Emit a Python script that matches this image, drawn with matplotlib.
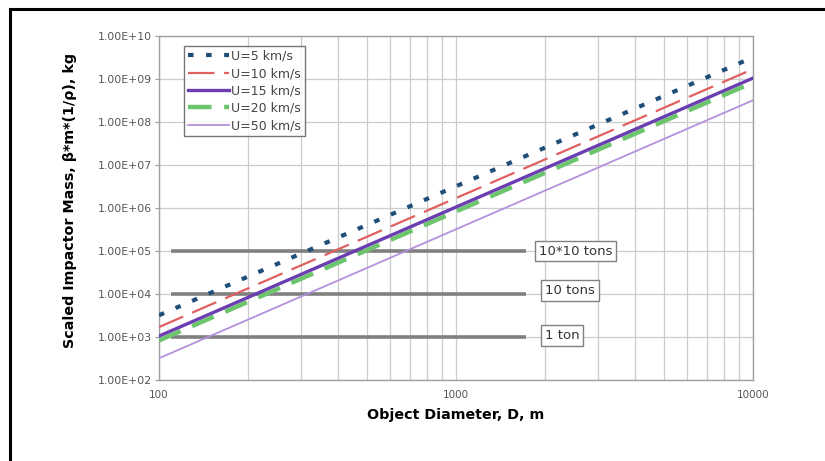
import matplotlib.pyplot as plt
from matplotlib.patches import Rectangle
from matplotlib.ticker import FixedLocator, NullFormatter

plt.rcParams['lines.scale_dashes'] = False

# object diameter, m
diam = [100, 1000, 10000]
# scaled impactor mass, kg, for each impact speed
mass_u5 = [3.2e3, 3.2e6, 3.2e9]
mass_u10 = [1.7e3, 1.7e6, 1.7e9]
mass_u15 = [1.05e3, 1.05e6, 1.05e9]
mass_u20 = [8.3e2, 8.3e5, 8.3e8]
mass_u50 = [3.2e2, 3.2e5, 3.2e8]
labels = ['U=5 km/s', 'U=10 km/s', 'U=15 km/s', 'U=20 km/s', 'U=50 km/s']

# reference masses
ref_x = [110, 1720]
ref_mass = [1e5, 1e4, 1e3]
ref_text = ['10*10 tons', '10 tons', '1 ton']
ref_text_x = [1900, 1990, 1990]
ref_text_y = [1.0e5, 1.2e4, 1.1e3]

fig = plt.figure(figsize=(8.25, 4.61), dpi=100)
ax = fig.add_axes([0.1927, 0.1757, 0.72, 0.7462])

# frame round the picture (cut at right and bottom)
fig.add_artist(Rectangle((9.5/825, -0.2), 1.2, 1 - 8.5/461 + 0.2, transform=fig.transFigure,
                         fill=False, edgecolor='black', linewidth=2.2))

for m in ref_mass:
    ax.plot(ref_x, [m, m], color='#808080', lw=2.6, solid_capstyle='butt', zorder=2)
for tx, ty, t in zip(ref_text_x, ref_text_y, ref_text):
    ax.text(tx, ty, t, fontsize=9.5, color='#333333', va='center', ha='left',
            bbox=dict(boxstyle='square,pad=0.3', fc='white', ec='#808080', lw=1))

ax.plot(diam, mass_u5, color='#1f4e79', lw=3, dashes=(4, 9), dash_capstyle='butt',
        label=labels[0], zorder=3)
ax.plot(diam, mass_u10, color='#e06060', lw=1.6, dashes=(19, 7), dash_capstyle='butt',
        label=labels[1], zorder=3)
ax.plot(diam, mass_u15, color='#6a3db0', lw=2.4, label=labels[2], zorder=4)
ax.plot(diam, mass_u20, color='#6cc56c', lw=3.2, dashes=(17, 9), dash_capstyle='butt',
        label=labels[3], zorder=3)
ax.plot(diam, mass_u50, color='#b590dc', lw=1.3, label=labels[4], zorder=3)

ax.set_xscale('log')
ax.set_yscale('log')
ax.set_xlim(100, 10000)
ax.set_ylim(1e2, 1e10)

ax.yaxis.set_major_locator(FixedLocator([10.0 ** k for k in range(2, 11)]))
ax.yaxis.set_minor_formatter(NullFormatter())
ax.yaxis.set_minor_locator(FixedLocator([]))
ax.set_yticklabels(['1.00E+%02d' % k for k in range(2, 11)])
ax.xaxis.set_major_locator(FixedLocator([100, 1000, 10000]))
ax.set_xticklabels(['100', '1000', '10000'])
ax.xaxis.set_minor_formatter(NullFormatter())

ax.grid(True, which='major', color='#cccccc', lw=0.9)
ax.grid(True, which='minor', axis='x', color='#cccccc', lw=0.9)
ax.set_axisbelow(True)
ax.tick_params(axis='y', which='major', length=3, color='#999999', labelsize=7.8,
               labelcolor='#555555', pad=2)
ax.tick_params(axis='x', which='both', length=0, labelsize=7.5, labelcolor='#555555', pad=7)
for s in ax.spines.values():
    s.set_color('#a0a0a0')
    s.set_linewidth(1)

ax.set_xlabel('Object Diameter, D, m', fontsize=10.3, fontweight='bold', labelpad=6)
ax.set_ylabel('Scaled Impactor Mass, β*m*(1/ρ), kg', fontsize=10.3, fontweight='bold')
ax.yaxis.set_label_coords(-0.138, 0.523)

leg = ax.legend(loc='upper left', bbox_to_anchor=(0.042, 0.971), fontsize=9, handlelength=3.3,
                frameon=True, fancybox=False, borderpad=0.3, labelspacing=0.35,
                handletextpad=0.2, borderaxespad=0)
leg.get_frame().set_edgecolor('#555555')
leg.get_frame().set_linewidth(1)
for t in leg.get_texts():
    t.set_color('#444444')

fig.savefig('out.png', dpi=100)
